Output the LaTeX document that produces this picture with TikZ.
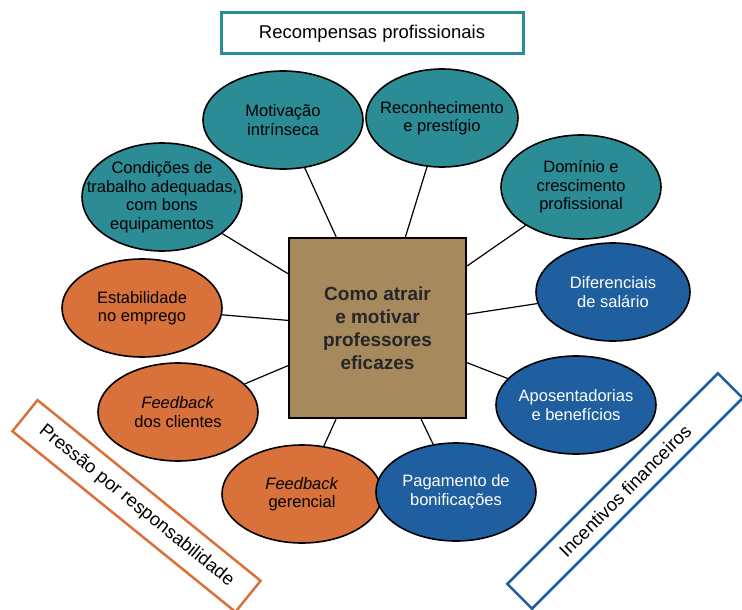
\documentclass[tikz,border=0pt]{standalone}
\usepackage{fontspec}
\setmainfont{Liberation Sans}
\usetikzlibrary{shapes.geometric}
\definecolor{rewardteal}{HTML}{2B8C96}
\definecolor{accountorange}{HTML}{D9713A}
\definecolor{moneyblue}{HTML}{1F5E9F}
\definecolor{corebrown}{HTML}{A68A5E}

\begin{document}
\begin{tikzpicture}[
    x=1pt,y=-1pt,
    bubble/.style={ellipse,draw=black,line width=1.6pt,minimum width=160pt,
                   minimum height=98pt,inner sep=-30pt,align=center,
                   font=\fontsize{16.5}{18.5}\selectfont},
    reward/.style={bubble,fill=rewardteal},
    account/.style={bubble,fill=accountorange},
    money/.style={bubble,fill=moneyblue,text=white},
    group/.style={draw,fill=white,line width=2.5pt,inner sep=0pt,
                  font=\fontsize{18.5}{22}\selectfont},
    spoke/.style={line width=1.2pt}
  ]
  \useasboundingbox (0,0) rectangle (742,610);

  % centre
  \node[draw=black,fill=corebrown,line width=2.2pt,minimum width=177pt,
        minimum height=180pt,align=center,text=black!85,
        font=\fontsize{19}{23}\selectfont\bfseries] (core) at (377.5,328)
    {Como atrair\\e motivar\\professores\\eficazes};

  % group labels
  \node[group,draw=rewardteal,line width=3pt,minimum width=302pt,
        minimum height=41pt] (gReward) at (372,33.5) {Recompensas profissionais};
  \node[group,draw=accountorange,minimum width=287pt,minimum height=40pt,
        rotate=-39] (gAccount) at (136.5,506) {Pressão por responsabilidade};
  \node[group,draw=moneyblue,minimum width=298pt,minimum height=35pt,
        rotate=45] (gMoney) at (625,491) {Incentivos financeiros};

  % professional rewards
  \node[reward] (rMotiv) at (283,120) {Motivação\\intrínseca};
  \node[reward,minimum width=152pt] (rRecog) at (442,118)
    {Reconhecimento\\e prestígio};
  \node[reward,minimum height=108pt] (rCond) at (162,197)
    {Condições de\\trabalho adequadas,\\com bons\\equipamentos};
  \node[reward,minimum height=104pt] (rGrow) at (581,187)
    {Domínio e\\crescimento\\profissional};

  % accountability
  \node[account] (aJob) at (142,308) {Estabilidade\\no emprego};
  \node[account] (aClient) at (178,412) {\textit{Feedback}\\dos clientes};
  \node[account] (aBoss) at (302,494) {\textit{Feedback}\\gerencial};

  % financial incentives
  \node[money,minimum width=154pt] (mPay) at (613,292) {Diferenciais\\de salário};
  \node[money] (mRetire) at (576,405) {Aposentadorias\\e benefícios};
  \node[money] (mBonus) at (456,492) {Pagamento de\\bonificações};

  % spokes
  \foreach \n in {rMotiv,rRecog,rCond,rGrow,aJob,aClient,aBoss,mPay,mRetire,mBonus}
    \draw[spoke] (core) -- (\n);
\end{tikzpicture}
\end{document}
